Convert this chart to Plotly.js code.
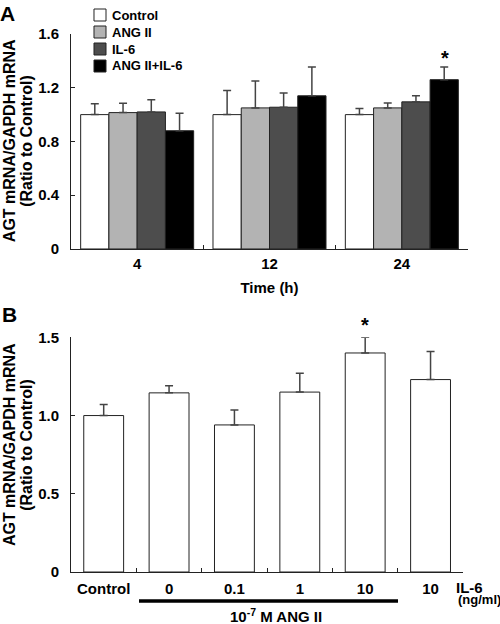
<!DOCTYPE html>
<html>
<head>
<meta charset="utf-8">
<script src="https://cdn.plot.ly/plotly-3.0.1.min.js"></script>
<style>html,body{margin:0;padding:0;background:#fff;}#chart{width:500px;height:624px;}</style>
</head>
<body>
<div id="chart"></div>
<script>
// ---- Panel A data ----
const timeCats = ["4", "12", "24"];
const seriesNames = ["Control", "ANG II", "IL-6", "ANG II+IL-6"];
const controlVals = [1.00, 1.00, 1.00];
const controlErr  = [0.08, 0.18, 0.045];
const angVals     = [1.015, 1.05, 1.05];
const angErr      = [0.07, 0.20, 0.037];
const il6Vals     = [1.02, 1.055, 1.095];
const il6Err      = [0.09, 0.105, 0.045];
const bothVals    = [0.88, 1.14, 1.26];
const bothErr     = [0.13, 0.215, 0.095];
const yTicksA = [0, 0.4, 0.8, 1.2, 1.6];
const yTickTextA = ["0", "0.4", "0.8", "1.2", "1.6"];

// ---- Panel B data ----
const doseCats   = ["Control", "0", "0.1", "1", "10", "10 IL-6 only"];
const doseLabels = ["Control", "0", "0.1", "1", "10", "10"];
const doseVals   = [1.00, 1.145, 0.94, 1.15, 1.40, 1.23];
const doseErr    = [0.07, 0.045, 0.095, 0.12, 0.10, 0.18];
const yTicksB = [0, 0.5, 1.0, 1.5];
const yTickTextB = ["0", "0.5", "1.0", "1.5"];

const FONT = "Arial, 'Liberation Sans', Helvetica, sans-serif";
const colorsA = ["#ffffff", "#b3b3b3", "#4d4d4d", "#000000"];
const valsA = [controlVals, angVals, il6Vals, bothVals];
const errsA = [controlErr, angErr, il6Err, bothErr];

const traces = valsA.map((v, i) => ({
  type: "bar",
  name: seriesNames[i],
  x: timeCats,
  y: v,
  xaxis: "x", yaxis: "y",
  marker: {color: colorsA[i], line: {color: "#222", width: 1}},
  error_y: {type: "data", symmetric: false, array: errsA[i], arrayminus: errsA[i].map(() => 0),
            color: "#444", thickness: 1.5, width: 4},
  showlegend: false
}));

traces.push({
  type: "bar",
  name: "AGT",
  x: doseCats,
  y: doseVals,
  xaxis: "x2", yaxis: "y2",
  width: 0.61,
  marker: {color: "#ffffff", line: {color: "#222", width: 1}},
  error_y: {type: "data", symmetric: false, array: doseErr, arrayminus: doseErr.map(() => 0),
            color: "#444", thickness: 1.5, width: 4},
  showlegend: false
});

const tickFont = {family: FONT, size: 15, color: "#000", weight: "bold"};
const axisCommon = {
  showline: true, linecolor: "#222", linewidth: 1,
  showgrid: false, zeroline: false,
  ticks: "inside", ticklen: 4, tickcolor: "#222",
  tickfont: tickFont, fixedrange: true, tickangle: 0
};

const ann = [];
const shapes = [];
function label(text, x, y, size, opts) {
  ann.push(Object.assign({text: text, xref: "paper", yref: "paper", x: x, y: y,
    showarrow: false, xanchor: "center", yanchor: "middle",
    font: {family: FONT, size: size, color: "#000", weight: "bold"}}, opts || {}));
}
// panel letters
label("A", -0.16, 1.0632, 21, {yanchor: "top"});
label("B", -0.155, 0.478, 21);
// y titles
label("AGT mRNA/GAPDH mRNA", -0.156, 0.801, 16, {textangle: -90});
label("(Ratio to Control)", -0.114, 0.801, 16, {textangle: -90});
label("AGT mRNA/GAPDH mRNA", -0.156, 0.236, 16, {textangle: -90});
label("(Ratio to Control)", -0.114, 0.236, 16, {textangle: -90});
// panel B extra labels
label("IL-6", 1.005, -0.0297, 15);
label("(ng/ml)", 1.028, -0.0515, 13);
label("10<sup>-7</sup> M ANG II", 0.516, -0.080, 15);
// asterisks
ann.push({text: "*", xref: "x", yref: "y", x: 2, y: bothVals[2] + bothErr[2],
  xshift: 42.7, yshift: 9, showarrow: false, yanchor: "middle", xanchor: "center",
  font: {family: FONT, size: 20, color: "#000", weight: "bold"}});
ann.push({text: "*", xref: "x2", yref: "y2", x: 4, y: doseVals[4] + doseErr[4],
  yshift: 12, showarrow: false, yanchor: "middle", xanchor: "center",
  font: {family: FONT, size: 20, color: "#000", weight: "bold"}});

// legend (drawn as key squares + labels)
const legendRowsPx = [15, 32, 49, 66];
seriesNames.forEach((name, i) => {
  const yc = (572 - legendRowsPx[i]) / 538;
  const h = 6 / 538;
  shapes.push({type: "rect", xref: "paper", yref: "paper",
    x0: 0.0579, x1: 0.0882, y0: yc - h, y1: yc + h,
    fillcolor: colorsA[i], line: {color: "#222", width: 1}});
  label(name, 0.0982, yc, 13, {xanchor: "left"});
});

// ANG II bracket line under panel B
shapes.push({type: "line", xref: "paper", yref: "paper", x0: 0.1713, x1: 0.8237, y0: -0.0539, y1: -0.0539,
  line: {color: "#000", width: 3.5}});

const layout = {
  width: 500, height: 624,
  margin: {l: 71, r: 32, t: 34, b: 52},
  paper_bgcolor: "#fff", plot_bgcolor: "#fff",
  font: {family: FONT, color: "#000"},
  barmode: "group", bargap: 0.146, bargroupgap: 0,
  showlegend: false,
  xaxis: Object.assign({}, axisCommon, {domain: [0, 1], anchor: "y", type: "category",
    range: [-0.5, 2.5], autorange: false,
    tickson: "boundaries", ticklabelstandoff: 1,
    title: {text: "Time (h)", font: {family: FONT, size: 15, color: "#000", weight: "bold"}, standoff: 11}}),
  yaxis: Object.assign({}, axisCommon, {domain: [0.6004, 1], anchor: "x", range: [0, 1.6], autorange: false,
    tickmode: "array", tickvals: yTicksA, ticktext: yTickTextA, ticklabelstandoff: 8}),
  xaxis2: Object.assign({}, axisCommon, {domain: [0, 0.988], anchor: "y2", type: "category",
    range: [-0.5, 5.5], autorange: false,
    tickson: "boundaries", tickmode: "array", tickvals: doseCats, ticktext: doseLabels, ticklabelstandoff: 3}),
  yaxis2: Object.assign({}, axisCommon, {domain: [0, 0.4362], anchor: "x2", range: [0, 1.5], autorange: false,
    tickmode: "array", tickvals: yTicksB, ticktext: yTickTextB, ticklabelstandoff: 8}),
  shapes: shapes,
  annotations: ann
};

Plotly.newPlot("chart", traces, layout, {displayModeBar: false, staticPlot: true});
</script>
</body>
</html>
